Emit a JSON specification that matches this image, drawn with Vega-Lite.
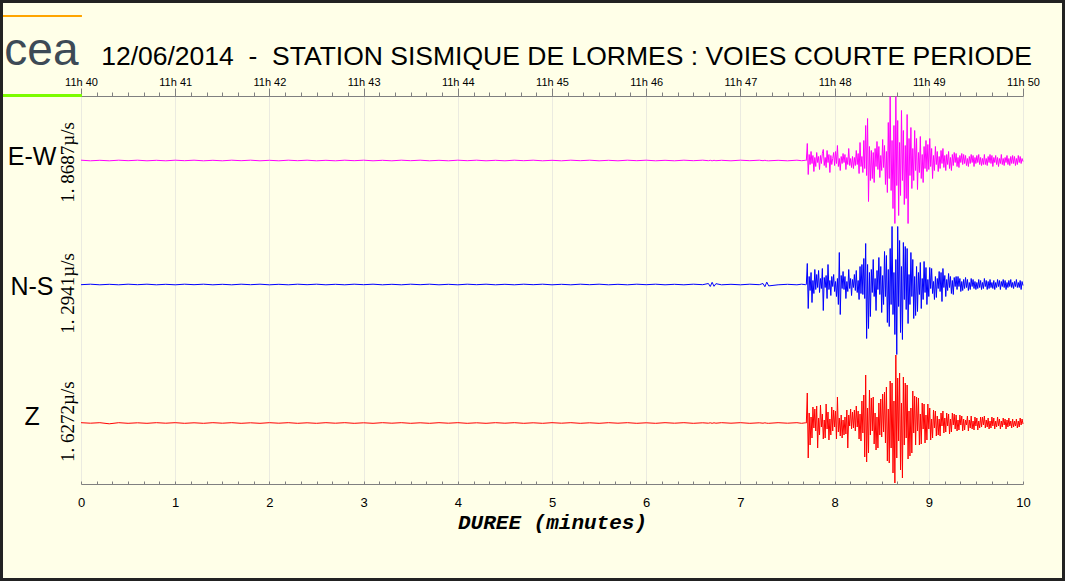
{
"$schema": "https://vega.github.io/schema/vega-lite/v6.json",
"width": 942, "height": 388,
"autosize": "none",
"padding": {"left": 81, "top": 96, "right": 42, "bottom": 97},
"background": "#FFFFE8",
"config": {"view": {"stroke": null}, "font": "Liberation Sans"},
"datasets": {
"trace": [
{"t":0,"e":0.3,"n":-0.2,"z":0.3},{"t":0.1,"e":-0.3,"n":0.3,"z":-0.2},{"t":0.2,"e":0.2,"n":-0.3,"z":0.3},{"t":0.3,"e":-0.3,"n":0.2,"z":-0.8},{"t":0.4,"e":0.3,"n":-0.3,"z":0.3},
{"t":0.5,"e":-0.2,"n":0.3,"z":-0.3},{"t":0.6,"e":0.3,"n":-0.2,"z":0.2},{"t":0.7,"e":-0.3,"n":0.3,"z":-0.3},{"t":0.8,"e":0.2,"n":-0.3,"z":0.3},{"t":0.9,"e":-0.3,"n":0.2,"z":-0.2},
{"t":1,"e":0.3,"n":-0.3,"z":0.3},{"t":1.1,"e":-0.2,"n":0.3,"z":-0.3},{"t":1.2,"e":0.3,"n":-0.2,"z":0.2},{"t":1.3,"e":-0.3,"n":0.3,"z":-0.3},{"t":1.4,"e":0.2,"n":-0.3,"z":0.3},
{"t":1.5,"e":-0.3,"n":0.2,"z":-0.2},{"t":1.6,"e":0.3,"n":-0.3,"z":0.3},{"t":1.7,"e":-0.2,"n":0.3,"z":-0.3},{"t":1.8,"e":0.3,"n":-0.2,"z":0.2},{"t":1.9,"e":-0.3,"n":0.3,"z":-0.3},
{"t":2,"e":0.2,"n":-0.3,"z":0.3},{"t":2.1,"e":-0.3,"n":0.2,"z":-0.2},{"t":2.2,"e":0.3,"n":-0.3,"z":0.3},{"t":2.3,"e":-0.2,"n":0.3,"z":-0.3},{"t":2.4,"e":0.3,"n":-0.2,"z":0.2},
{"t":2.5,"e":-0.3,"n":0.3,"z":-0.3},{"t":2.6,"e":0.2,"n":-0.3,"z":0.3},{"t":2.7,"e":-0.3,"n":0.2,"z":-0.2},{"t":2.8,"e":0.3,"n":-0.3,"z":0.3},{"t":2.9,"e":-0.2,"n":0.3,"z":-0.3},
{"t":3,"e":0.3,"n":-0.2,"z":0.2},{"t":3.1,"e":-0.3,"n":0.3,"z":-0.3},{"t":3.2,"e":0.2,"n":-0.3,"z":0.3},{"t":3.3,"e":-0.3,"n":0.2,"z":-0.2},{"t":3.4,"e":0.3,"n":-0.3,"z":0.3},
{"t":3.5,"e":-0.2,"n":0.3,"z":-0.3},{"t":3.6,"e":0.3,"n":-0.2,"z":0.2},{"t":3.7,"e":-0.3,"n":0.3,"z":-0.3},{"t":3.8,"e":0.2,"n":-0.3,"z":0.3},{"t":3.9,"e":-0.3,"n":0.2,"z":-0.2},
{"t":4,"e":0.3,"n":-0.3,"z":0.3},{"t":4.1,"e":-0.2,"n":0.3,"z":-0.3},{"t":4.2,"e":0.3,"n":-0.2,"z":0.2},{"t":4.3,"e":-0.3,"n":0.3,"z":-0.3},{"t":4.4,"e":0.2,"n":-0.3,"z":0.3},
{"t":4.5,"e":-0.3,"n":0.2,"z":-0.2},{"t":4.6,"e":0.3,"n":-0.3,"z":0.3},{"t":4.7,"e":-0.2,"n":0.3,"z":-0.3},{"t":4.8,"e":0.3,"n":-0.2,"z":0.2},{"t":4.9,"e":-0.3,"n":0.3,"z":-0.3},
{"t":5,"e":0.2,"n":-0.3,"z":0.3},{"t":5.1,"e":-0.3,"n":0.2,"z":-0.2},{"t":5.2,"e":0.3,"n":-0.3,"z":0.3},{"t":5.3,"e":-0.2,"n":0.3,"z":-0.3},{"t":5.4,"e":0.3,"n":-0.2,"z":0.2},
{"t":5.5,"e":-0.3,"n":0.3,"z":-0.3},{"t":5.6,"e":0.2,"n":-0.3,"z":0.3},{"t":5.7,"e":-0.3,"n":0.2,"z":-0.2},{"t":5.8,"e":0.3,"n":-0.3,"z":0.3},{"t":5.9,"e":-0.2,"n":0.3,"z":-0.3},
{"t":6,"e":0.3,"n":-0.2,"z":0.2},{"t":6.1,"e":-0.3,"n":0.3,"z":-0.3},{"t":6.2,"e":0.2,"n":-0.3,"z":0.3},{"t":6.3,"e":-0.3,"n":0.2,"z":-0.2},{"t":6.4,"e":0.3,"n":-0.3,"z":0.3},
{"t":6.5,"e":-0.2,"n":0.3,"z":-0.3},{"t":6.6,"e":0.3,"n":-0.2,"z":0.2},{"t":6.66,"e":-0.2,"n":1,"z":-0.2},{"t":6.68,"e":0.2,"n":-2,"z":0.2},{"t":6.7,"e":-0.3,"n":2.2,"z":-0.3},
{"t":6.72,"e":0.2,"n":-1.8,"z":0.2},{"t":6.74,"e":-0.2,"n":0.8,"z":-0.2},{"t":6.8,"e":0.2,"n":-0.3,"z":0.3},{"t":6.9,"e":-0.3,"n":0.2,"z":-0.2},{"t":7,"e":0.3,"n":-0.3,"z":0.3},
{"t":7.1,"e":-0.2,"n":0.3,"z":-0.3},{"t":7.2,"e":0.3,"n":-0.2,"z":0.2},{"t":7.24,"e":-0.2,"n":1,"z":-0.2},{"t":7.26,"e":0.2,"n":-2.2,"z":0.2},{"t":7.28,"e":-0.2,"n":2.4,"z":-0.2},
{"t":7.3,"e":-0.3,"n":-1.4,"z":-0.3},{"t":7.4,"e":0.2,"n":-0.3,"z":0.3},{"t":7.5,"e":-0.3,"n":0.2,"z":-0.2},{"t":7.6,"e":0.3,"n":-0.3,"z":0.3},{"t":7.65,"e":-0.2,"n":0.3,"z":-0.3},{"t":7.69,"e":0.2,"n":-0.2,"z":0.2},
{"t":7.7,"e":0,"n":0,"z":0},{"t":7.71,"e":17,"n":21,"z":30},{"t":7.72,"e":-14,"n":-24,"z":-35},{"t":7.73,"e":6,"n":8,"z":10},{"t":7.74,"e":-4,"n":-6,"z":-22},
{"t":7.75,"e":9,"n":12,"z":6},{"t":7.76,"e":-3,"n":-18,"z":-15},{"t":7.77,"e":5,"n":4,"z":16},{"t":7.78,"e":-11,"n":-9,"z":-5},{"t":7.79,"e":3,"n":15,"z":14},
{"t":7.8,"e":-6,"n":-5,"z":-8},{"t":7.81,"e":8,"n":10,"z":17},{"t":7.82,"e":-2,"n":-3,"z":-25},{"t":7.83,"e":4,"n":14,"z":5},{"t":7.84,"e":-9,"n":-8,"z":-12},
{"t":7.85,"e":5,"n":6,"z":18},{"t":7.86,"e":-3,"n":-4,"z":-4},{"t":7.87,"e":7,"n":16,"z":9},{"t":7.88,"e":11,"n":-26,"z":-16},{"t":7.89,"e":-5,"n":7,"z":3},
{"t":7.9,"e":3,"n":-3,"z":-15},{"t":7.91,"e":-7,"n":9,"z":19},{"t":7.92,"e":10,"n":-14,"z":-6},{"t":7.93,"e":-2,"n":20,"z":11},{"t":7.94,"e":6,"n":-5,"z":-17},
{"t":7.95,"e":-12,"n":4,"z":4},{"t":7.96,"e":5,"n":-11,"z":-12},{"t":7.97,"e":-4,"n":8,"z":16},{"t":7.98,"e":2,"n":-2,"z":-8},{"t":7.99,"e":8,"n":10,"z":13},
{"t":8,"e":-5,"n":-7,"z":-4},{"t":8.01,"e":9,"n":3,"z":12},{"t":8.02,"e":-3,"n":-12,"z":-16},{"t":8.03,"e":15,"n":6,"z":26},{"t":8.04,"e":-6,"n":-20,"z":-9},
{"t":8.05,"e":2,"n":32,"z":5},{"t":8.06,"e":-10,"n":-30,"z":-13},{"t":8.07,"e":4,"n":9,"z":8},{"t":8.08,"e":-3,"n":-4,"z":-15},{"t":8.09,"e":7,"n":13,"z":3},
{"t":8.1,"e":-2,"n":-5,"z":-12},{"t":8.11,"e":6,"n":8,"z":6},{"t":8.12,"e":-9,"n":-14,"z":-11},{"t":8.13,"e":3,"n":3,"z":13},{"t":8.14,"e":-4,"n":-7,"z":-25},
{"t":8.15,"e":12,"n":15,"z":8},{"t":8.16,"e":-5,"n":-4,"z":-3},{"t":8.17,"e":2,"n":6,"z":14},{"t":8.18,"e":-7,"n":-11,"z":-6},{"t":8.19,"e":4,"n":5,"z":11},
{"t":8.2,"e":-8,"n":-3,"z":-5},{"t":8.21,"e":3,"n":10,"z":13},{"t":8.22,"e":-5,"n":-6,"z":-8},{"t":8.23,"e":10,"n":14,"z":17},{"t":8.24,"e":-4,"n":-8,"z":-4},
{"t":8.25,"e":7,"n":4,"z":12},{"t":8.26,"e":-13,"n":-15,"z":-16},{"t":8.27,"e":18,"n":18,"z":9},{"t":8.28,"e":-6,"n":-9,"z":-18},{"t":8.29,"e":4,"n":20,"z":22},
{"t":8.3,"e":-12,"n":-10,"z":-10},{"t":8.31,"e":20,"n":26,"z":28},{"t":8.32,"e":-8,"n":-14,"z":-34},{"t":8.33,"e":35,"n":41,"z":48},{"t":8.34,"e":-15,"n":-54,"z":-39},
{"t":8.35,"e":42,"n":20,"z":15},{"t":8.36,"e":-41,"n":-44,"z":-30},{"t":8.37,"e":14,"n":12,"z":33},{"t":8.38,"e":-20,"n":-32,"z":-12},{"t":8.39,"e":10,"n":15,"z":25},
{"t":8.4,"e":-18,"n":-8,"z":-8},{"t":8.41,"e":8,"n":25,"z":26},{"t":8.42,"e":-22,"n":-12,"z":-21},{"t":8.43,"e":12,"n":6,"z":10},{"t":8.44,"e":-6,"n":-26,"z":-27},
{"t":8.45,"e":19,"n":14,"z":6},{"t":8.46,"e":-9,"n":-5,"z":-25},{"t":8.47,"e":14,"n":27,"z":20},{"t":8.48,"e":-17,"n":-10,"z":-12},{"t":8.49,"e":5,"n":18,"z":24},
{"t":8.5,"e":-10,"n":-28,"z":-14},{"t":8.51,"e":21,"n":9,"z":29},{"t":8.52,"e":-7,"n":-20,"z":-9},{"t":8.53,"e":15,"n":33,"z":31},{"t":8.54,"e":-24,"n":-12,"z":-20},
{"t":8.55,"e":9,"n":29,"z":36},{"t":8.56,"e":-32,"n":-38,"z":-38},{"t":8.57,"e":38,"n":15,"z":14},{"t":8.58,"e":-18,"n":-42,"z":-40},{"t":8.59,"e":64,"n":36,"z":42},
{"t":8.6,"e":-30,"n":-20,"z":-25},{"t":8.61,"e":20,"n":58,"z":40},{"t":8.62,"e":-48,"n":-30,"z":-50},{"t":8.63,"e":35,"n":12,"z":22},{"t":8.64,"e":-63,"n":-50,"z":-60},
{"t":8.65,"e":64,"n":25,"z":68},{"t":8.66,"e":-25,"n":-70,"z":-35},{"t":8.67,"e":40,"n":58,"z":45},{"t":8.68,"e":-55,"n":-22,"z":-18},{"t":8.69,"e":18,"n":44,"z":50},
{"t":8.7,"e":-35,"n":-48,"z":-47},{"t":8.71,"e":50,"n":18,"z":20},{"t":8.72,"e":-20,"n":-55,"z":-55},{"t":8.73,"e":30,"n":42,"z":46},{"t":8.74,"e":-44,"n":-15,"z":-22},
{"t":8.75,"e":15,"n":38,"z":40},{"t":8.76,"e":-38,"n":-25,"z":-15},{"t":8.77,"e":46,"n":36,"z":38},{"t":8.78,"e":-63,"n":-39,"z":-36},{"t":8.79,"e":22,"n":10,"z":12},
{"t":8.8,"e":-15,"n":-20,"z":-33},{"t":8.81,"e":33,"n":32,"z":15},{"t":8.82,"e":-28,"n":-12,"z":-30},{"t":8.83,"e":12,"n":25,"z":32},{"t":8.84,"e":-20,"n":-34,"z":-10},
{"t":8.85,"e":30,"n":8,"z":27},{"t":8.86,"e":-10,"n":-31,"z":-22},{"t":8.87,"e":22,"n":18,"z":26},{"t":8.88,"e":-29,"n":-27,"z":-8},{"t":8.89,"e":8,"n":12,"z":25},
{"t":8.9,"e":-12,"n":-10,"z":-22},{"t":8.91,"e":24,"n":22,"z":9},{"t":8.92,"e":-18,"n":-24,"z":-21},{"t":8.93,"e":6,"n":6,"z":20},{"t":8.94,"e":-22,"n":-15,"z":-6},
{"t":8.95,"e":14,"n":23,"z":19},{"t":8.96,"e":-8,"n":-8,"z":-20},{"t":8.97,"e":20,"n":17,"z":8},{"t":8.98,"e":-11,"n":-20,"z":-17},{"t":8.99,"e":16,"n":5,"z":19},
{"t":9,"e":-9,"n":-12,"z":-6},{"t":9.01,"e":22,"n":17,"z":15},{"t":9.02,"e":-6,"n":-4,"z":-17},{"t":9.03,"e":12,"n":16,"z":4},{"t":9.04,"e":-18,"n":-9,"z":-15},
{"t":9.05,"e":5,"n":3,"z":13},{"t":9.06,"e":-10,"n":-15,"z":-5},{"t":9.07,"e":14,"n":8,"z":12},{"t":9.08,"e":-4,"n":-13,"z":-13},{"t":9.09,"e":9,"n":6,"z":7},
{"t":9.1,"e":-11,"n":-4,"z":-12},{"t":9.11,"e":4,"n":13,"z":4},{"t":9.12,"e":-8,"n":-7,"z":-13},{"t":9.13,"e":10,"n":12,"z":10},{"t":9.14,"e":-3,"n":-17,"z":-3},
{"t":9.15,"e":12,"n":16,"z":12},{"t":9.16,"e":-7,"n":-3,"z":-10},{"t":9.17,"e":5,"n":9,"z":5},{"t":9.18,"e":-10,"n":-12,"z":-9},{"t":9.19,"e":6,"n":5,"z":10},
{"t":9.2,"e":-4,"n":-6,"z":-3},{"t":9.21,"e":9,"n":11,"z":9},{"t":9.22,"e":-8,"n":-3,"z":-11},{"t":9.23,"e":3,"n":8,"z":4},{"t":9.24,"e":-10,"n":-9,"z":-9},
{"t":9.25,"e":6,"n":4,"z":10},{"t":9.26,"e":-5,"n":-10,"z":-2},{"t":9.27,"e":8,"n":7,"z":9},{"t":9.28,"e":-2,"n":-2,"z":-6},{"t":9.29,"e":7,"n":8,"z":8},
{"t":9.3,"e":-6,"n":-5,"z":-8},{"t":9.31,"e":3,"n":8,"z":3},{"t":9.32,"e":-7,"n":-2,"z":-7},{"t":9.33,"e":5,"n":6,"z":8},{"t":9.34,"e":-2,"n":-7,"z":-2},
{"t":9.35,"e":7,"n":3,"z":7},{"t":9.36,"e":-4,"n":-6,"z":-8},{"t":9.37,"e":6,"n":5,"z":4},{"t":9.38,"e":-3,"n":-4,"z":-7},{"t":9.39,"e":5,"n":7,"z":3},
{"t":9.4,"e":-5,"n":-3,"z":-2},{"t":9.41,"e":2,"n":5,"z":7},{"t":9.42,"e":-6,"n":-6,"z":-8},{"t":9.43,"e":4,"n":2,"z":3},{"t":9.44,"e":-3,"n":-5,"z":-5},
{"t":9.45,"e":6,"n":6,"z":7},{"t":9.46,"e":-2,"n":-2,"z":-6},{"t":9.47,"e":5,"n":5,"z":2},{"t":9.48,"e":-6,"n":-4,"z":-7},{"t":9.49,"e":3,"n":3,"z":6},
{"t":9.5,"e":-3,"n":-5,"z":-3},{"t":9.51,"e":5,"n":2,"z":5},{"t":9.52,"e":-2,"n":-4,"z":-7},{"t":9.53,"e":6,"n":5,"z":2},{"t":9.54,"e":-4,"n":-3,"z":-5},
{"t":9.55,"e":3,"n":4,"z":6},{"t":9.56,"e":-5,"n":-5,"z":-4},{"t":9.57,"e":2,"n":2,"z":6},{"t":9.58,"e":-4,"n":-4,"z":-2},{"t":9.59,"e":6,"n":6,"z":7},
{"t":9.6,"e":-4,"n":-2,"z":-5},{"t":9.61,"e":2,"n":4,"z":3},{"t":9.62,"e":-5,"n":-5,"z":-4},{"t":9.63,"e":4,"n":3,"z":5},{"t":9.64,"e":-2,"n":-4,"z":-6},
{"t":9.65,"e":6,"n":5,"z":2},{"t":9.66,"e":-3,"n":-3,"z":-5},{"t":9.67,"e":5,"n":2,"z":6},{"t":9.68,"e":-6,"n":-4,"z":-3},{"t":9.69,"e":3,"n":4,"z":5},
{"t":9.7,"e":-2,"n":-5,"z":-6},{"t":9.71,"e":5,"n":2,"z":2},{"t":9.72,"e":-4,"n":-3,"z":-4},{"t":9.73,"e":3,"n":5,"z":6},{"t":9.74,"e":-6,"n":-2,"z":-3},
{"t":9.75,"e":2,"n":4,"z":4},{"t":9.76,"e":-3,"n":-5,"z":-6},{"t":9.77,"e":6,"n":3,"z":2},{"t":9.78,"e":-4,"n":-2,"z":-4},{"t":9.79,"e":2,"n":5,"z":5},
{"t":9.8,"e":-5,"n":-3,"z":-2},{"t":9.81,"e":3,"n":4,"z":4},{"t":9.82,"e":-2,"n":-5,"z":-6},{"t":9.83,"e":5,"n":2,"z":3},{"t":9.84,"e":-4,"n":-3,"z":-4},
{"t":9.85,"e":2,"n":4,"z":5},{"t":9.86,"e":-5,"n":-2,"z":-3},{"t":9.87,"e":4,"n":5,"z":2},{"t":9.88,"e":-3,"n":-3,"z":-5},{"t":9.89,"e":5,"n":2,"z":4},
{"t":9.9,"e":-3,"n":-4,"z":-4},{"t":9.91,"e":4,"n":3,"z":2},{"t":9.92,"e":-5,"n":-2,"z":-3},{"t":9.93,"e":2,"n":5,"z":4},{"t":9.94,"e":-4,"n":-3,"z":-5},
{"t":9.95,"e":5,"n":2,"z":2},{"t":9.96,"e":-2,"n":-3,"z":-4},{"t":9.97,"e":4,"n":4,"z":5},{"t":9.98,"e":-3,"n":-5,"z":-2},{"t":9.99,"e":2,"n":3,"z":4},
{"t":10,"e":-1,"n":-1,"z":-1}
]
},
"layer": [
{
"resolve": {"axis": {"x": "independent"}},
"layer": [
{"data": {"name": "trace"},
 "mark": {"type": "line", "color": "#ff00ff", "strokeWidth": 1},
 "encoding": {
  "x": {"field": "t", "type": "quantitative", "scale": {"domain": [0, 10], "nice": false, "zero": false},
   "axis": {"orient": "top", "values": [0,1,2,3,4,5,6,7,8,9,10], "labelExpr": "'11h ' + (40 + datum.value)", "labelFont": "Liberation Sans", "labelFontSize": 11, "labelColor": "#000000", "labelFlush": false, "labelPadding": 1, "tickSize": 8, "tickColor": "#808080", "domainColor": "#808080", "grid": false, "title": null}},
  "y": {"field": "e", "type": "quantitative", "scale": {"domain": [-323.5, 64.5], "nice": false, "zero": false},
   "axis": {"values": [-64.5, -193.5], "grid": true, "gridColor": "#ebebe0", "labels": false, "ticks": false, "domain": false, "title": null}}
 }},
{"data": {"values": [{"label": "E-W"}]},
 "mark": {"type": "text", "font": "Liberation Sans", "fontSize": 25, "fontWeight": "normal", "align": "center", "baseline": "middle", "color": "#000000"},
 "encoding": {"text": {"field": "label"}, "x": {"datum": -0.52, "type": "quantitative", "axis": null}, "y": {"datum": 4, "type": "quantitative", "axis": null}}},
{"data": {"values": [{"label": "1. 8687µ/s"}]},
 "mark": {"type": "text", "font": "Liberation Serif", "fontSize": 19, "fontWeight": "normal", "angle": 270, "align": "center", "baseline": "middle", "color": "#000000"},
 "encoding": {"text": {"field": "label"}, "x": {"datum": -0.135, "type": "quantitative", "axis": null}, "y": {"datum": -2, "type": "quantitative", "axis": null}}},
{"data": {"values": [{"label": "12/06/2014 \u00a0-\u00a0 STATION SISMIQUE DE LORMES : VOIES COURTE PERIODE"}]},
 "mark": {"type": "text", "font": "Liberation Sans", "fontSize": 26.5, "fontWeight": "normal", "align": "center", "baseline": "middle", "color": "#000000"},
 "encoding": {"text": {"field": "label"}, "x": {"datum": 5.154, "type": "quantitative", "axis": null}, "y": {"datum": 104, "type": "quantitative", "axis": null}}},
{"data": {"values": [{"label": "cea"}]},
 "mark": {"type": "text", "font": "Liberation Sans", "fontSize": 46, "fontWeight": "normal", "align": "center", "baseline": "middle", "color": "#3d4a56"},
 "encoding": {"text": {"field": "label"}, "x": {"datum": -0.42, "type": "quantitative", "axis": null}, "y": {"datum": 110, "type": "quantitative", "axis": null}}},
{"data": {"values": [{}]},
 "mark": {"type": "rule", "color": "#ffa500", "strokeWidth": 2},
 "encoding": {"x": {"datum": -0.839, "type": "quantitative", "axis": null}, "x2": {"datum": 0.01}, "y": {"datum": 144.5, "type": "quantitative", "axis": null}}},
{"data": {"values": [{}]},
 "mark": {"type": "rule", "color": "#7cfc00", "strokeWidth": 3},
 "encoding": {"x": {"datum": -0.839, "type": "quantitative", "axis": null}, "x2": {"datum": 0.01}, "y": {"datum": 65, "type": "quantitative", "axis": null}}},
{"data": {"values": [{}]},
 "mark": {"type": "rect", "filled": false, "stroke": "#222222", "strokeWidth": 3},
 "encoding": {"x": {"datum": -0.8439, "type": "quantitative", "axis": null}, "x2": {"datum": 10.43}, "y": {"datum": 159, "type": "quantitative", "axis": null}, "y2": {"datum": -419}}}
]
},
{
"resolve": {"axis": {"x": "independent"}},
"layer": [
{"data": {"name": "trace"},
 "mark": {"type": "line", "color": "#0000ff", "strokeWidth": 1},
 "encoding": {
  "x": {"field": "t", "type": "quantitative",
   "axis": {"orient": "top", "values": [0.1667,0.3333,0.5,0.6667,0.8333,1.1667,1.3333,1.5,1.6667,1.8333,2.1667,2.3333,2.5,2.6667,2.8333,3.1667,3.3333,3.5,3.6667,3.8333,4.1667,4.3333,4.5,4.6667,4.8333,5.1667,5.3333,5.5,5.6667,5.8333,6.1667,6.3333,6.5,6.6667,6.8333,7.1667,7.3333,7.5,7.6667,7.8333,8.1667,8.3333,8.5,8.6667,8.8333,9.1667,9.3333,9.5,9.6667,9.8333], "labels": false, "tickSize": 4, "tickColor": "#808080", "domain": false, "grid": false, "title": null}},
  "y": {"field": "n", "type": "quantitative", "scale": {"domain": [-199.5, 188.5], "nice": false, "zero": false}, "axis": null}
 }},
{"data": {"values": [{"label": "N-S"}]},
 "mark": {"type": "text", "font": "Liberation Sans", "fontSize": 25, "fontWeight": "normal", "align": "center", "baseline": "middle", "color": "#000000"},
 "encoding": {"text": {"field": "label"}, "x": {"datum": -0.52, "type": "quantitative", "axis": null}, "y": {"datum": -2, "type": "quantitative", "axis": null}}},
{"data": {"values": [{"label": "1. 2941µ/s"}]},
 "mark": {"type": "text", "font": "Liberation Serif", "fontSize": 19, "fontWeight": "normal", "angle": 270, "align": "center", "baseline": "middle", "color": "#000000"},
 "encoding": {"text": {"field": "label"}, "x": {"datum": -0.135, "type": "quantitative", "axis": null}, "y": {"datum": -9, "type": "quantitative", "axis": null}}}
]
},
{
"resolve": {"axis": {"x": "independent"}},
"layer": [
{"data": {"name": "trace"},
 "mark": {"type": "line", "color": "#ff0000", "strokeWidth": 1},
 "encoding": {
  "x": {"field": "t", "type": "quantitative",
   "axis": {"orient": "bottom", "values": [0,1,2,3,4,5,6,7,8,9,10], "format": "d", "labelFont": "Liberation Sans", "labelFontSize": 13, "labelColor": "#000000", "labelFlush": false, "labelPadding": 12, "ticks": false, "domainColor": "#808080", "grid": true, "gridColor": "#ebebe0", "title": "DUREE (minutes)", "titleFont": "Liberation Mono", "titleFontSize": 21, "titleFontStyle": "italic", "titleFontWeight": "bold", "titleColor": "#000000", "titlePadding": 2}},
  "y": {"field": "z", "type": "quantitative", "scale": {"domain": [-61, 327], "nice": false, "zero": false}, "axis": null}
 }},
{"data": {"values": [{"label": "Z"}]},
 "mark": {"type": "text", "font": "Liberation Sans", "fontSize": 25, "fontWeight": "normal", "align": "center", "baseline": "middle", "color": "#000000"},
 "encoding": {"text": {"field": "label"}, "x": {"datum": -0.52, "type": "quantitative",
   "axis": {"orient": "bottom", "values": [0,0.1667,0.3333,0.5,0.6667,0.8333,1,1.1667,1.3333,1.5,1.6667,1.8333,2,2.1667,2.3333,2.5,2.6667,2.8333,3,3.1667,3.3333,3.5,3.6667,3.8333,4,4.1667,4.3333,4.5,4.6667,4.8333,5,5.1667,5.3333,5.5,5.6667,5.8333,6,6.1667,6.3333,6.5,6.6667,6.8333,7,7.1667,7.3333,7.5,7.6667,7.8333,8,8.1667,8.3333,8.5,8.6667,8.8333,9,9.1667,9.3333,9.5,9.6667,9.8333,10], "labels": false, "tickSize": -3, "tickColor": "#808080", "domain": false, "grid": false, "title": null}},
  "y": {"datum": 6, "type": "quantitative", "axis": null}}},
{"data": {"values": [{"label": "1. 6272µ/s"}]},
 "mark": {"type": "text", "font": "Liberation Serif", "fontSize": 19, "fontWeight": "normal", "angle": 270, "align": "center", "baseline": "middle", "color": "#000000"},
 "encoding": {"text": {"field": "label"}, "x": {"datum": -0.135, "type": "quantitative", "axis": null}, "y": {"datum": 1.3, "type": "quantitative", "axis": null}}}
]
}
],
"resolve": {"scale": {"y": "independent"}, "axis": {"x": "independent", "y": "independent"}}
}
